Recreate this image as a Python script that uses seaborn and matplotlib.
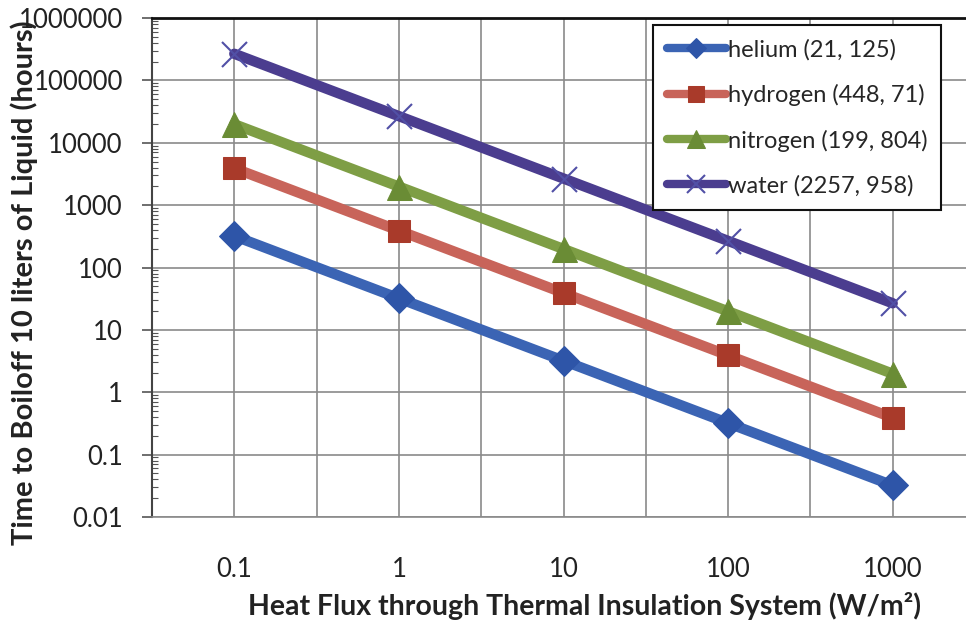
import numpy as np
import pandas as pd
import matplotlib.pyplot as plt
import matplotlib.ticker as mticker
import seaborn as sns

# heat flux (W/m2) and time to boil off 10 L (hours)
flux = [0.1, 1, 10, 100, 1000]
helium = [320, 32, 3.2, 0.32, 0.032]
hydrogen = [3900, 390, 39, 3.9, 0.39]
nitrogen = [19800, 1980, 198, 19.8, 1.98]
water = [267000, 26700, 2670, 267, 26.7]

liquids = ['helium', 'hydrogen', 'nitrogen', 'water']
labels = ['helium (21, 125)', 'hydrogen (448, 71)',
          'nitrogen (199, 804)', 'water (2257, 958)']
series = [helium, hydrogen, nitrogen, water]

df = pd.DataFrame({
    'flux': flux * len(liquids),
    'hours': sum(series, []),
    'liquid': np.repeat(liquids, len(flux)),
})

styles = {
    'helium':   dict(color='#3B64B4', marker='D', markersize=15, markerfacecolor='#2E55A8', markeredgecolor='#2E55A8'),
    'hydrogen': dict(color='#C8645A', marker='s', markersize=16, markerfacecolor='#A93A2A', markeredgecolor='#A93A2A'),
    'nitrogen': dict(color='#7E9E45', marker='^', markersize=18, markerfacecolor='#6A8C35', markeredgecolor='#6A8C35'),
    'water':    dict(color='#4B3D8F', marker='x', markersize=18, markeredgewidth=1.5, markeredgecolor='#5150A6'),
}

sns.set_style('white')
plt.rcParams['font.family'] = ['Lato', 'DejaVu Sans']

fig = plt.figure(figsize=(9.66, 6.27), dpi=100)
ax = fig.add_axes([152 / 966, 1 - 517 / 627, 823 / 966, 499 / 627])

for name, lab in zip(liquids, labels):
    sns.lineplot(data=df[df['liquid'] == name], x='flux', y='hours',
                 linewidth=7.5, label=lab, ax=ax, **styles[name])

ax.set_xscale('log')
ax.set_yscale('log')
ax.set_xlim(10 ** -1.5, 10 ** 3.5)
ax.set_ylim(0.01, 1e6)

ax.xaxis.set_major_locator(mticker.FixedLocator(flux))
ax.xaxis.set_minor_locator(mticker.FixedLocator([10 ** (k + 0.5) for k in range(-2, 4)]))
ax.xaxis.set_major_formatter(mticker.FixedFormatter(['0.1', '1', '10', '100', '1000']))
ax.xaxis.set_minor_formatter(mticker.NullFormatter())

yt = [10.0 ** k for k in range(-2, 7)]
ax.yaxis.set_major_locator(mticker.FixedLocator(yt))
ax.yaxis.set_major_formatter(mticker.FixedFormatter(
    ['0.01', '0.1', '1', '10', '100', '1000', '10000', '100000', '1000000']))
ax.yaxis.set_minor_locator(mticker.LogLocator(base=10, subs=np.arange(2, 10), numticks=20))
ax.yaxis.set_minor_formatter(mticker.NullFormatter())

ax.grid(axis='x', which='both', color='#8a8a8a', linewidth=1.2)
ax.grid(axis='y', which='major', color='#8a8a8a', linewidth=1.2)
ax.set_axisbelow(True)

ax.tick_params(axis='x', which='both', length=0, pad=29, labelsize=18.5, colors='#222222')
ax.tick_params(axis='y', which='major', direction='out', length=7, width=1.2,
               color='#555555', pad=14, labelsize=18.5, labelcolor='#222222', left=True)
ax.tick_params(axis='y', which='minor', direction='in', length=4, width=0.8,
               color='#555555', left=True)

ax.spines['right'].set_visible(False)
ax.spines['top'].set_color('#111111')
ax.spines['top'].set_linewidth(2)
ax.spines['left'].set_color('#444444')
ax.spines['left'].set_linewidth(1.5)
ax.spines['bottom'].set_color('#8a8a8a')
ax.spines['bottom'].set_linewidth(1.2)

ax.set_xlabel('Heat Flux through Thermal Insulation System (W/m²)',
              fontsize=20.5, fontweight='bold', color='#222222', va='center')
ax.xaxis.set_label_coords((585 - 152) / 823, (517 - 606) / 499)
ax.set_ylabel('Time to Boiloff 10 liters of Liquid (hours)',
              fontsize=21, fontweight='bold', color='#222222', va='center')
ax.yaxis.set_label_coords((24 - 152) / 823, (517 - 283) / 499)

handles, labs = ax.get_legend_handles_labels()
leg = ax.legend(handles, labs, loc='upper left',
                bbox_to_anchor=(653 / 966, 1 - 25 / 627), bbox_transform=fig.transFigure,
                fontsize=17, frameon=True, fancybox=False, framealpha=1,
                edgecolor='#111111', handlelength=2.5, handletextpad=0.1,
                labelspacing=1.0, borderpad=0.58, borderaxespad=0)
leg.get_frame().set_linewidth(1.5)
for h in leg.legend_handles:
    h.set_linewidth(6)
    h.set_markersize(h.get_markersize() * 0.7)

fig.savefig('out.png', dpi=100)
